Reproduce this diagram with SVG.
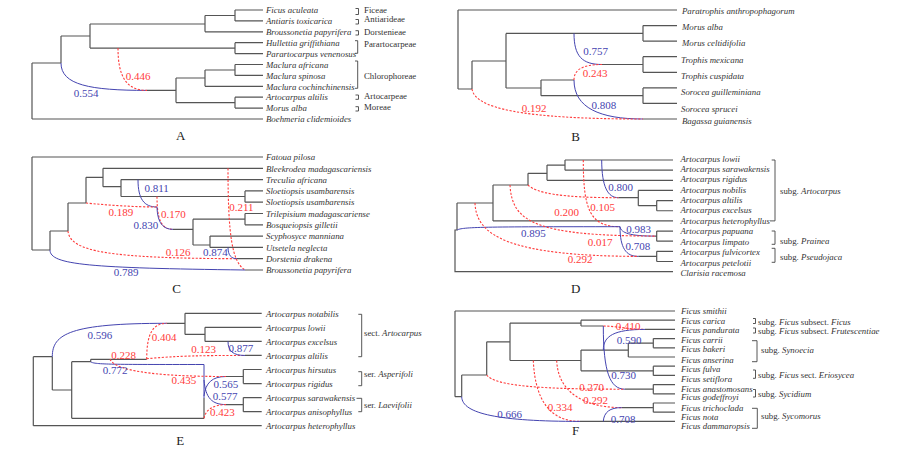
<svg xmlns="http://www.w3.org/2000/svg" width="915" height="456" viewBox="0 0 915 456">
<style>
.t{fill:none;stroke:#555;stroke-width:1.2}
.b{fill:none;stroke:#4444b0;stroke-width:1}
.r{fill:none;stroke:#ff3b3b;stroke-width:1.1;stroke-dasharray:2.2 1.6}
.k{fill:none;stroke:#444;stroke-width:0.9}
text{font-family:"Liberation Serif","Times New Roman",serif}
.s{font-size:8.8px;font-style:italic;fill:#333}
.g{font-size:8.8px;fill:#333}
.nb{font-size:11px;fill:#4444b0;text-anchor:middle}
.nr{font-size:11px;fill:#ff3b3b;text-anchor:middle}
.p{font-size:13px;fill:#222;text-anchor:middle}
.i{font-style:italic}
</style>
<rect width="915" height="456" fill="#fff"/>

<g id="panelA">
<g id="A-connectors">
<path class="t" d="M32,63V119M32,63H61M32,119H263M61,36V63M61,36H90M90,24V48.1M90,24H205M90,48.1H235M205,15.5V31.8M205,15.5H235M205,31.8H263M235,10V20.9M235,10H263M235,20.9H263M235,42.7V53.6M235,42.7H263M235,53.6H263M147,90.4H176M176,78V102.6M176,78H205M205,70V86.3M205,70H235M205,86.3H263M235,64.5V75.4M235,64.5H263M235,75.4H263M176,102.6H235M235,97.2V108.1M235,97.2H263M235,108.1H263"/>
<path class="b" d="M61,63C61,85 90,90.4 147,90.4"/>
<path class="r" d="M118,48.1C118,76 126,90.4 147,90.4"/>
<path class="k" d="M355.5,8.5H358.5V14.5H355.5M355.5,19.5H358.5V24H355.5M355.5,30.7H358.5V35H355.5M355,40.7H357.7V53.3H355M355,61H357.7V88.3H355M355.5,95H358.5V99.3H355.5M355.5,106.7H358.5V111H355.5"/>
</g>
<g id="A-nodes">
<text class="nb" x="86" y="96.7">0.554</text>
<text class="nr" x="138" y="79.8">0.446</text>
<text class="s" x="266" y="13.2">Ficus aculeata</text>
<text class="s" x="266" y="24.1">Antiaris toxicarica</text>
<text class="s" x="266" y="35">Broussonetia papyrifera</text>
<text class="s" x="266" y="45.9">Hullettia griffithiana</text>
<text class="s" x="266" y="56.8">Parartocarpus venenosus</text>
<text class="s" x="266" y="67.7">Maclura africana</text>
<text class="s" x="266" y="78.6">Maclura spinosa</text>
<text class="s" x="266" y="89.5">Maclura cochinchinensis</text>
<text class="s" x="266" y="100.4">Artocarpus altilis</text>
<text class="s" x="266" y="111.3">Morus alba</text>
<text class="s" x="266" y="122.2">Boehmeria clidemioides</text>
<text class="g" x="364" y="13">Ficeae</text>
<text class="g" x="364" y="22">Antiarideae</text>
<text class="g" x="364" y="35">Dorstenieae</text>
<text class="g" x="364" y="46.7">Parartocarpeae</text>
<text class="g" x="364" y="78.7">Chlorophoreae</text>
<text class="g" x="364" y="98.7">Artocarpeae</text>
<text class="g" x="364" y="110.3">Moreae</text>
<text class="p" x="180.7" y="139.5">A</text>
</g>
</g>

<g id="panelB">
<g id="B-connectors">
<path class="t" d="M458,10V89M458,10H677M458,89H472M472,61V89M472,61H506M506,33.4V88M506,33.4H643M643,25.6V41.1M643,25.6H677M643,41.1H677M506,88H541M541,80V95.7M541,80H574M541,95.7H643M643,87.9V103.4M643,87.9H677M643,103.4H677M602,64.5H643M643,56.7V72.3M643,56.7H677M643,72.3H677M643,119H677"/>
<path class="b" d="M574,33.4C574,56 582,64.5 602,64.5"/>
<path class="r" d="M574,80C574,70 582,64.5 602,64.5"/>
<path class="b" d="M574,80C574,108 600,119 643,119"/>
<path class="r" d="M472,89C475,108 520,119 643,119"/>
</g>
<g id="B-nodes">
<text class="nb" x="595.7" y="54.5">0.757</text>
<text class="nr" x="595" y="76.5">0.243</text>
<text class="nb" x="603.8" y="108.8">0.808</text>
<text class="nr" x="534.2" y="112.1">0.192</text>
<text class="s" x="682" y="14.2">Paratrophis anthropophagorum</text>
<text class="s" x="682" y="29.9">Morus alba</text>
<text class="s" x="682" y="45.9">Morus celtidifolia</text>
<text class="s" x="681" y="62.5">Trophis mexicana</text>
<text class="s" x="681" y="79.2">Trophis cuspidata</text>
<text class="s" x="681" y="95.2">Sorocea guilleminiana</text>
<text class="s" x="681" y="112.2">Sorocea sprucei</text>
<text class="s" x="682" y="123.9">Bagassa guianensis</text>
<text class="p" x="575.7" y="140.5">B</text>
</g>
</g>

<g id="panelC">
<g id="C-connectors">
<path class="t" d="M32,157V250M32,157H263M32,250H50M50,231V250M50,231H68M68,203V231M68,203H86M86,177.3V203M86,177.3H103M103,168.3V186.7M103,168.3H263M103,186.7H121M121,179.6V196.5M121,179.6H263M121,196.5H245M245,190.9V202.2M245,190.9H263M245,202.2H263M173,229.3H193M193,219.2V245M193,219.2H245M245,213.5V224.8M245,213.5H263M245,224.8H263M193,245H210M210,236.1V247.4M210,236.1H263M210,247.4H263M237,258.7H263M245,270H263"/>
<path class="b" d="M138,179.6C138,199 144,207 157,207"/>
<path class="r" d="M86,203C105,205 135,207 157,207"/>
<path class="r" d="M157,196.5C157,219 161,229.3 173,229.3"/>
<path class="b" d="M157,207C157.5,223 163,229.3 173,229.3"/>
<path class="r" d="M68,231C70,252 110,258.2 237,258.7"/>
<path class="b" d="M228,247.4C228,255 231,258.7 237,258.7"/>
<path class="r" d="M228,168.3C228,235 232,262 245,270"/>
<path class="b" d="M50,250C50,265 90,268 245,270"/>
</g>
<g id="C-nodes">
<text class="nb" x="156.7" y="191.5">0.811</text>
<text class="nr" x="120.8" y="215.5">0.189</text>
<text class="nr" x="173.3" y="218.1">0.170</text>
<text class="nb" x="145.8" y="228.8">0.830</text>
<text class="nr" x="178.2" y="255.5">0.126</text>
<text class="nb" x="215.3" y="256.1">0.874</text>
<text class="nb" x="126.2" y="275.5">0.789</text>
<text class="nr" x="241.3" y="210.5">0.211</text>
<text class="s" x="266" y="160.2">Fatoua pilosa</text>
<text class="s" x="266" y="171.5">Bleekrodea madagascariensis</text>
<text class="s" x="266" y="182.8">Treculia africana</text>
<text class="s" x="266" y="194.1">Sloetiopsis usambarensis</text>
<text class="s" x="266" y="205.4">Sloetiopsis usambarensis</text>
<text class="s" x="266" y="216.7">Trilepisium madagascariense</text>
<text class="s" x="266" y="228">Bosqueiopsis gilletii</text>
<text class="s" x="266" y="239.3">Scyphosyce manniana</text>
<text class="s" x="266" y="250.6">Utsetela neglecta</text>
<text class="s" x="266" y="261.9">Dorstenia drakena</text>
<text class="s" x="266" y="273.2">Broussonetia papyrifera</text>
<text class="p" x="176.7" y="292.8">C</text>
</g>
</g>

<g id="panelD">
<g id="D-connectors">
<path class="t" d="M457,203V230H455V271.65H673M457,203H493M493,185V220.9M493,185H528M493,220.9H673M528,173.3V185M528,173.3H547M547,165.1V180.3M547,165.1H565M547,180.3H673M565,160V170.15M565,160H673M565,170.15H673M618.3,197.7H638.3M638.3,190.45V205.7M638.3,190.45H673M638.3,205.7H656.7M656.7,200.6V210.75M656.7,200.6H673M656.7,210.75H673M655,236.1H656.7M656.7,231.05V241.2M656.7,231.05H673M656.7,241.2H673M638.3,256.4H656.7M656.7,251.35V261.5M656.7,251.35H673M656.7,261.5H673"/>
<path class="b" d="M601.7,160C601.7,187 608,197.7 618.3,197.7"/>
<path class="r" d="M528,185C536,193 560,197.7 618.3,197.7"/>
<path class="r" d="M583.3,160C583.3,210 590,226.7 620,226.7"/>
<path class="b" d="M457,230C463,227 480,226.7 620,226.7"/>
<path class="b" d="M620,226.7C621,233 630,236.1 655,236.1"/>
<path class="r" d="M510,185C512,222 535,235.8 655,236.1"/>
<path class="b" d="M620,226.7C620,248 626,256.4 638.3,256.4"/>
<path class="r" d="M475,203C476,236 510,256 638.3,256.4"/>
<path class="k" d="M771.7,160H775V220.9H770M771.7,231H775V244.3H771.7M771.7,248.3H775V262.3H771.7"/>
</g>
<g id="D-nodes">
<text class="nb" x="620.5" y="191.1">0.800</text>
<text class="nr" x="566.7" y="215.5">0.200</text>
<text class="nr" x="602.5" y="210.5">0.105</text>
<text class="nb" x="533.3" y="237.1">0.895</text>
<text class="nb" x="638.7" y="232.8">0.983</text>
<text class="nr" x="600" y="245.5">0.017</text>
<text class="nb" x="637.8" y="249.5">0.708</text>
<text class="nr" x="580.2" y="262.8">0.292</text>
<text class="s" x="680.5" y="162.2">Artocarpus lowii</text>
<text class="s" x="680.5" y="172.3">Artocarpus sarawakensis</text>
<text class="s" x="680.5" y="182.3">Artocarpus rigidus</text>
<text class="s" x="680.5" y="192.5">Artocarpus nobilis</text>
<text class="s" x="680.5" y="202.6">Artocarpus altilis</text>
<text class="s" x="680.5" y="213.2">Artocarpus excelsus</text>
<text class="s" x="680.5" y="223.9">Artocarpus heterophyllus</text>
<text class="s" x="680.5" y="234.2">Artocarpus papuana</text>
<text class="s" x="680.5" y="244.9">Artocarpus limpato</text>
<text class="s" x="680.5" y="254.9">Artocarpus fulvicortex</text>
<text class="s" x="680.5" y="265.5">Artocarpus petelotii</text>
<text class="s" x="680.5" y="275.5">Clarisia racemosa</text>
<text class="g" x="780" y="193.7">subg. <tspan class="i">Artocarpus</tspan></text>
<text class="g" x="780" y="243.7">subg. <tspan class="i">Prainea</tspan></text>
<text class="g" x="780" y="260.3">subg. <tspan class="i">Pseudojaca</tspan></text>
<text class="p" x="575.7" y="292.8">D</text>
</g>
</g>

<g id="panelE">
<g id="E-connectors">
<path class="t" d="M33.3,356.7V425.7M33.3,356.7H52.3M33.3,425.7H261.7M52.3,356.7V390M52.3,390H71.7M71.7,361.7V418.3M71.7,361.7H90.7M90.7,359.3V362M90.7,359.3H146.7M71.7,418.3H204M204,398V418.3M166.7,323.3H185M185,313.3V334.4M185,313.3H261.7M185,334.4H205M205,327.35V341.4M205,327.35H261.7M205,341.4H261.7M245,355.45H261.7M226,376.5H243.3M243.3,369.5V383.55M243.3,369.5H261.7M243.3,383.55H261.7M226,404.6H243.3M243.3,397.6V411.65M243.3,397.6H261.7M243.3,411.65H261.7"/>
<path class="b" d="M52.3,356.7C52.3,334 70,323.3 166.7,323.3"/>
<path class="r" d="M146.7,359.3C146.7,335 152,323.3 166.7,323.3"/>
<path class="r" d="M146.7,358.8C175,355.8 205,355.45 245,355.45"/>
<path class="b" d="M228,341.4C228,351 233,355.45 245,355.45"/>
<path class="b" d="M90.7,362C96,364.5 110,364.5 204,364.5V398"/>
<path class="b" d="M204,396C205.5,383 212,376.5 226,376.5"/>
<path class="b" d="M204,380C205.5,398 212,404.6 226,404.6"/>
<path class="r" d="M110,359.3C115,370 150,376.5 226,376.5"/>
<path class="r" d="M204,418.3C205.5,410 213,404.6 226,404.6"/>
<path class="k" d="M358.3,314.3H361.7V356.7H358.3M358.3,371.7H361.7V385.7H358.3M356.5,398.3H361.7V411.7H358.3"/>
</g>
<g id="E-nodes">
<text class="nb" x="99.8" y="338.8">0.596</text>
<text class="nr" x="164.2" y="340.5">0.404</text>
<text class="nr" x="203.5" y="352.8">0.123</text>
<text class="nb" x="240.8" y="351.5">0.877</text>
<text class="nr" x="123.5" y="358.8">0.228</text>
<text class="nb" x="115" y="373.8">0.772</text>
<text class="nr" x="183.8" y="383.8">0.435</text>
<text class="nb" x="225.8" y="388.1">0.565</text>
<text class="nb" x="225" y="399.8">0.577</text>
<text class="nr" x="222.4" y="415.5">0.423</text>
<text class="s" x="266" y="316.5">Artocarpus notabilis</text>
<text class="s" x="266" y="330.5">Artocarpus lowii</text>
<text class="s" x="266" y="344.6">Artocarpus excelsus</text>
<text class="s" x="266" y="358.6">Artocarpus altilis</text>
<text class="s" x="266" y="372.7">Artocarpus hirsutus</text>
<text class="s" x="266" y="386.7">Artocarpus rigidus</text>
<text class="s" x="266" y="400.8">Artocarpus sarawakensis</text>
<text class="s" x="266" y="414.8">Artocarpus anisophyllus</text>
<text class="s" x="266" y="428.9">Artocarpus heterophyllus</text>
<text class="g" x="364" y="335.7">sect. <tspan class="i">Artocarpus</tspan></text>
<text class="g" x="364" y="377.3">ser. <tspan class="i">Asperifoli</tspan></text>
<text class="g" x="364" y="408">ser. <tspan class="i">Laevifolii</tspan></text>
<text class="p" x="180.3" y="444.5">E</text>
</g>
</g>

<g id="panelF">
<g id="F-connectors">
<path class="t" d="M455,311V396.7M455,311H675M455,396.7H461.7M461.7,375V396.7M461.7,375H486.7M486.7,341.8V375M486.7,341.8H510M510,323.1V360.5M510,323.1H581M510,360.5H581M581,320.2V326M581,320.2H675M581,326H603.3M645,329.4H675M581,350.1V370.8M581,350.1H628.3M628.3,343.2V357M628.3,343.2H653.3M653.3,338.6V347.8M653.3,338.6H675M653.3,347.8H675M628.3,357H675M581,370.8H653.3M653.3,366.2V375.4M653.3,366.2H675M653.3,375.4H675M625,389.2H653.3M653.3,384.6V393.8M653.3,384.6H675M653.3,393.8H675M621.7,407.6H653.3M653.3,403V412.2M653.3,403H675M653.3,412.2H675M580,421.4H675"/>
<path class="r" d="M603.3,326C620,326.5 630,329.4 645,329.4"/>
<path class="b" d="M603.3,350.1C603.3,336 614,329.4 645,329.4"/>
<path class="b" d="M603.3,326C603.3,372 610,389.2 625,389.2"/>
<path class="r" d="M486.7,375C495,386 540,389.2 625,389.2"/>
<path class="r" d="M533.3,360.5C535,400 550,421.4 580,421.4"/>
<path class="r" d="M556.7,360.5C558,393 585,407.6 621.7,407.6"/>
<path class="b" d="M461.7,396.7C462,414 500,421.4 580,421.4"/>
<path class="b" d="M603.3,421.4C604,412 610,407.6 621.7,407.6"/>
<path class="k" d="M753,318.5H755.5V323.5H753M753,328H755.5V333H753M752,340.7H757V361.7H752M753,370H755.5V378.3H753M753,389.5H755.5V397H753M752,408.3H757.3V428.3H752"/>
</g>
<g id="F-nodes">
<text class="nr" x="628.2" y="329.5">0.410</text>
<text class="nb" x="629.2" y="343.8">0.590</text>
<text class="nb" x="623.5" y="378.8">0.730</text>
<text class="nr" x="591.7" y="390.5">0.270</text>
<text class="nr" x="595.5" y="403.8">0.292</text>
<text class="nr" x="560" y="410.5">0.334</text>
<text class="nb" x="509.5" y="418.1">0.666</text>
<text class="nb" x="623" y="422.8">0.708</text>
<text class="s" x="681" y="314.2">Ficus smithii</text>
<text class="s" x="681" y="323.9">Ficus carica</text>
<text class="s" x="681" y="333.2">Ficus pandurata</text>
<text class="s" x="681" y="343.2">Ficus carrii</text>
<text class="s" x="681" y="352.2">Ficus bakeri</text>
<text class="s" x="681" y="363.2">Ficus anserina</text>
<text class="s" x="681" y="372.2">Ficus fulva</text>
<text class="s" x="681" y="381.5">Ficus setiflora</text>
<text class="s" x="681" y="391.5">Ficus anastomosans</text>
<text class="s" x="681" y="399.9">Ficus godeffroyi</text>
<text class="s" x="681" y="410.9">Ficus trichoclada</text>
<text class="s" x="681" y="419.9">Ficus nota</text>
<text class="s" x="681" y="428.9">Ficus dammaropsis</text>
<text class="g" x="758" y="324.7">subg. <tspan class="i">Ficus</tspan> subsect. <tspan class="i">Ficus</tspan></text>
<text class="g" x="758" y="334">subg. <tspan class="i">Ficus</tspan> subsect. <tspan class="i">Frutescentiae</tspan></text>
<text class="g" x="761" y="353">subg. <tspan class="i">Synoecia</tspan></text>
<text class="g" x="758" y="378">subg. <tspan class="i">Ficus</tspan> sect. <tspan class="i">Eriosycea</tspan></text>
<text class="g" x="758" y="397">subg. <tspan class="i">Sycidium</tspan></text>
<text class="g" x="761" y="418.7">subg. <tspan class="i">Sycomorus</tspan></text>
<text class="p" x="575.7" y="435.3">F</text>
</g>
</g>
</svg>
